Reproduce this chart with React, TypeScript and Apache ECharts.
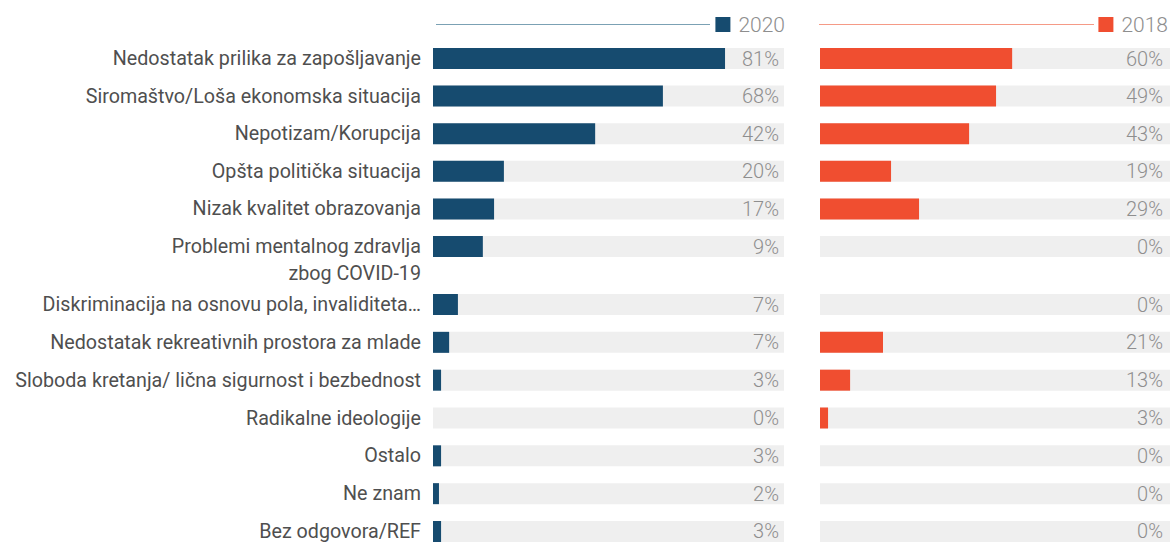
import React, { useEffect, useRef } from "react";
import * as echarts from "echarts";

const categories = [
  "Nedostatak prilika za zapošljavanje",
  "Siromaštvo/Loša ekonomska situacija",
  "Nepotizam/Korupcija",
  "Opšta politička situacija",
  "Nizak kvalitet obrazovanja",
  "Problemi mentalnog zdravlja\nzbog COVID-19",
  "Diskriminacija na osnovu pola, invaliditeta…",
  "Nedostatak rekreativnih prostora za mlade",
  "Sloboda kretanja/ lična sigurnost i bezbednost",
  "Radikalne ideologije",
  "Ostalo",
  "Ne znam",
  "Bez odgovora/REF",
];

// printed labels
const labels2020 = [81, 68, 42, 20, 17, 9, 7, 7, 3, 0, 3, 2, 3];
const labels2018 = [60, 49, 43, 19, 29, 0, 0, 21, 13, 3, 0, 0, 0];

// drawn bar lengths (% of panel width)
const bars2020 = [83.2, 65.5, 46.2, 20.2, 17.4, 14.2, 7.1, 4.6, 2.3, 0, 2.3, 1.7, 2.3];
const bars2018 = [54.9, 50.3, 42.6, 20.3, 28.3, 0, 0, 18.0, 8.6, 2.3, 0, 0, 0];

const AXIS_MAX = 100;
const SPLIT = 6;

const C2020 = "#164b6f";
const C2018 = "#f04e30";
const BG = "#efefef";
const VAL = "#8e8e8e";
const TXT = "#4f4f4f";
const FONT = "Roboto";

export default function App() {
  const ref = useRef<HTMLDivElement>(null);
  useEffect(() => {
    if (!ref.current) return;
    const chart = echarts.init(ref.current, undefined, { renderer: "svg" });

    const grids = [
      { left: 433, width: 351, top: 39.7, height: 225.6 },
      { left: 433, width: 351, top: 285.6, height: 264.8 },
      { left: 820, width: 350, top: 39.7, height: 225.6 },
      { left: 820, width: 350, top: 285.6, height: 264.8 },
    ];
    const parts = [
      { cats: categories.slice(0, SPLIT), lab: labels2020.slice(0, SPLIT), bar: bars2020.slice(0, SPLIT), name: "2020", color: C2020, showLabels: true },
      { cats: categories.slice(SPLIT), lab: labels2020.slice(SPLIT), bar: bars2020.slice(SPLIT), name: "2020", color: C2020, showLabels: true },
      { cats: categories.slice(0, SPLIT), lab: labels2018.slice(0, SPLIT), bar: bars2018.slice(0, SPLIT), name: "2018", color: C2018, showLabels: false },
      { cats: categories.slice(SPLIT), lab: labels2018.slice(SPLIT), bar: bars2018.slice(SPLIT), name: "2018", color: C2018, showLabels: false },
    ];

    const xAxis = grids.map((_, i) => ({
      type: "value",
      gridIndex: i,
      min: 0,
      max: AXIS_MAX,
      show: false,
    }));
    const yAxis = parts.map((p, i) => ({
      type: "category",
      gridIndex: i,
      inverse: true,
      data: p.cats,
      axisLine: { show: false },
      axisTick: { show: false },
      splitLine: { show: false },
      axisLabel: {
        show: p.showLabels,
        interval: 0,
        hideOverlap: false,
        margin: 12,
        color: TXT,
        fontFamily: FONT,
        fontSize: 19.7,
        lineHeight: 27,
        align: "right",
        formatter: (v: string) => (v.indexOf("\n") >= 0 ? " \n" + v : v),
      },
    }));

    const series: any[] = [];
    parts.forEach((p, i) => {
      series.push({
        type: "bar",
        name: "bg" + i,
        xAxisIndex: i,
        yAxisIndex: i,
        barWidth: 21,
        barGap: "-100%",
        silent: true,
        itemStyle: { color: BG },
        data: p.lab.map(() => AXIS_MAX),
        label: {
          show: true,
          position: "insideRight",
          distance: i >= 2 ? 7 : 5,
          color: VAL,
          fontFamily: FONT,
          fontWeight: 300,
          fontSize: 20,
          formatter: (d: any) => p.lab[d.dataIndex] + "%",
        },
      });
      series.push({
        type: "bar",
        name: p.name,
        xAxisIndex: i,
        yAxisIndex: i,
        barWidth: 21,
        barGap: "-100%",
        itemStyle: { color: p.color },
        data: p.bar,
      });
    });

    const legendText = { color: VAL, fontFamily: FONT, fontWeight: 300, fontSize: 21, padding: [0, 0, 0, 3] };

    chart.setOption({
      animation: false,
      grid: grids.map((g) => ({ ...g, containLabel: false, outerBoundsMode: "none" })),
      xAxis,
      yAxis,
      legend: [
        {
          data: ["2020"],
          right: 385,
          top: 14,
          icon: "rect",
          itemWidth: 15,
          itemHeight: 15,
          padding: 0,
          selectedMode: false,
          textStyle: legendText,
        },
        {
          data: ["2018"],
          right: 2,
          top: 14,
          icon: "rect",
          itemWidth: 15,
          itemHeight: 15,
          padding: 0,
          selectedMode: false,
          textStyle: legendText,
        },
      ],
      graphic: [
        { type: "line", shape: { x1: 436, y1: 24.5, x2: 710, y2: 24.5 }, style: { stroke: "#7ba1b4", lineWidth: 1 } },
        { type: "line", shape: { x1: 819, y1: 24.5, x2: 1094, y2: 24.5 }, style: { stroke: "#f59a86", lineWidth: 1 } },
      ],
      series,
    });
    return () => chart.dispose();
  }, []);
  return (
    <div
      ref={ref}
      style={{ position: "fixed", left: 0, top: 0, width: 1170, height: 543, background: "#fff" }}
    />
  );
}
